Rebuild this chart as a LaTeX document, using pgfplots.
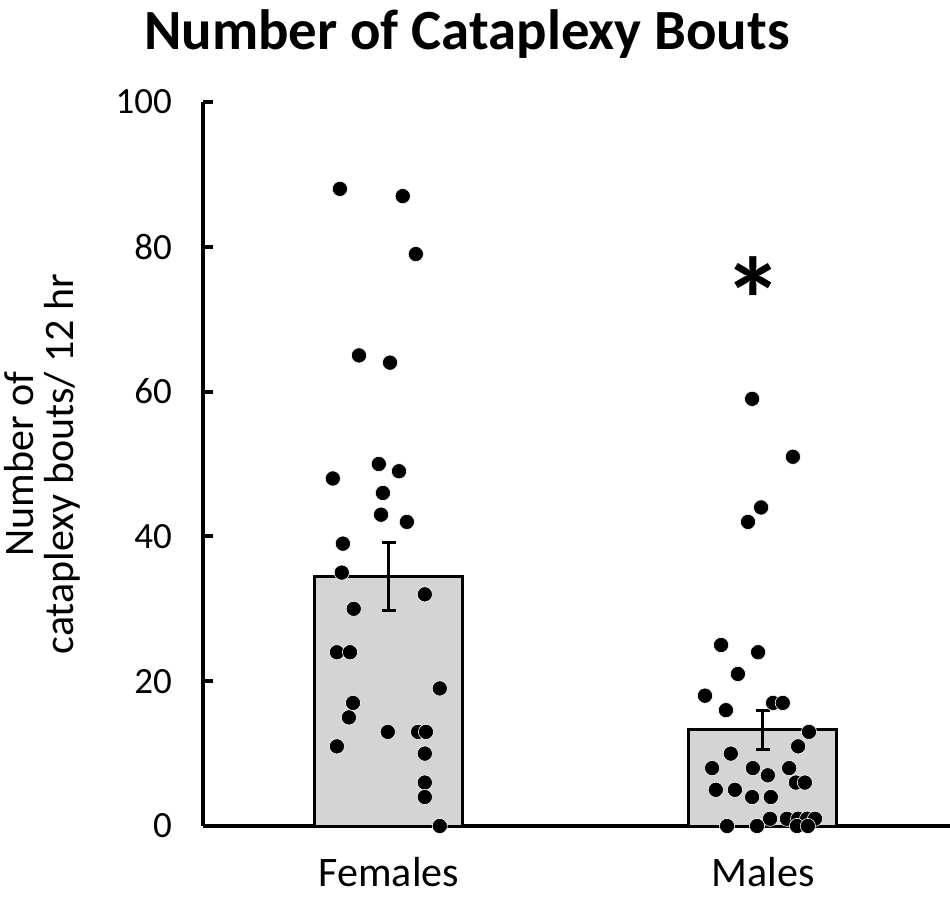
\documentclass[border=0pt]{standalone}
\usepackage{fontspec}
\setmainfont{Carlito}
\usepackage{pgfplots}
\pgfplotsset{compat=1.18}
\definecolor{barfill}{RGB}{212,212,212}
\begin{document}
\begin{tikzpicture}
\useasboundingbox (0,0) rectangle (475pt,451pt);
\node[font=\bfseries\fontsize{28.4}{34}\selectfont] at (233.5pt,434pt) {Number of Cataplexy Bouts};
\node[rotate=90,align=center,font=\fontsize{21}{20}\selectfont] at (21pt,219pt) {Number of\\cataplexy bouts/ 12 hr};
\begin{axis}[
  at={(101.5pt,38pt)}, anchor=south west,
  scale only axis, width=373.5pt, height=362pt,
  xmin=-0.497, xmax=1.5, ymin=0, ymax=100,
  axis x line=bottom, axis y line=left,
  axis line style={-, line width=2pt},
  xtick={0,1}, xticklabels={Females,Males},
  x tick style={draw=none},
  ytick={0,20,40,60,80,100},
  y tick style={line width=2pt, black},
  tick align=inside, major tick length=5pt,
  tick label style={font=\fontsize{21}{25}\selectfont},
  yticklabel style={font=\fontsize{18.5}{22}\selectfont, xshift=-12pt},
  /pgf/number format/assume math mode=true,
  xticklabel style={yshift=-12pt},
  clip=false,
]
\addplot[ybar, bar width=74pt, bar shift=0pt, fill=barfill, draw=black, line width=1.5pt,
  error bars/.cd, y dir=both, y explicit,
  error bar style={line width=1.5pt, black},
  error mark options={rotate=90, mark size=3.5pt, line width=1.5pt, black}]
  coordinates {(0,34.5) +- (0,4.7) (1,13.3) +- (0,2.7)};
\addplot[only marks, mark=*, mark size=3.8pt, mark options={fill=black, draw=white, line width=0.3pt}]
  coordinates {
  (-0.131,88) (0.037,87) (0.072,79) (-0.080,65) (0.003,64)
  (-0.027,50) (0.027,49) (-0.150,48) (-0.016,46) (-0.021,43)
  (0.048,42) (-0.123,39) (-0.126,35) (0.096,32) (-0.094,30)
  (-0.139,24) (-0.104,24) (0.136,19) (-0.096,17) (-0.107,15)
  (-0.003,13) (0.078,13) (0.099,13) (-0.139,11) (0.096,10)
  (0.096,6) (0.096,4) (0.136,0)
  };
\addplot[only marks, mark=*, mark size=3.8pt, mark options={fill=black, draw=white, line width=0.3pt}]
  coordinates {
  (0.971,59) (1.080,51) (0.995,44) (0.960,42) (0.888,25)
  (0.987,24) (0.933,21) (0.845,18) (0.901,16) (1.027,17)
  (1.053,17) (1.123,13) (1.094,11) (0.914,10) (0.864,8)
  (0.973,8) (1.070,8) (1.013,7) (1.088,6) (1.112,6)
  (0.874,5) (0.925,5) (0.971,4) (1.021,4) (1.019,1)
  (1.064,1) (1.094,1) (1.118,1) (1.139,1) (0.904,0)
  (0.984,0) (1.091,0) (1.120,0)
  };
\node[font=\bfseries\fontsize{60}{60}\selectfont, inner sep=0pt] at (axis cs:0.975,72.7) {*};
\end{axis}
\end{tikzpicture}
\end{document}
